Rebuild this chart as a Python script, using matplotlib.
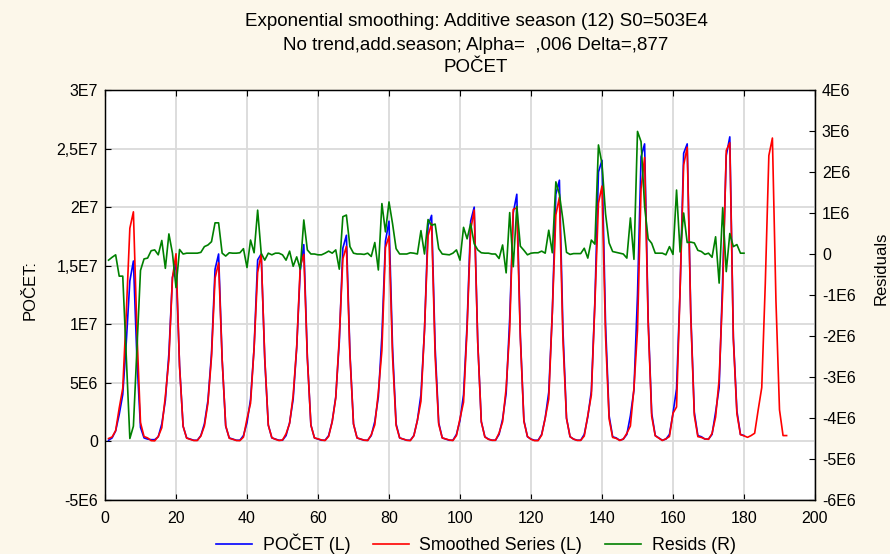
import numpy as np
import matplotlib
matplotlib.use("Agg")
import matplotlib.pyplot as plt
from matplotlib.lines import Line2D

plt.rcParams['font.family'] = ['Liberation Sans', 'DejaVu Sans']

# POCET, observed series (in millions), months 1..180
pocet = [
    0.10, 0.30, 0.90, 2.30, 4.00, 8.50, 13.7, 15.4, 7.00, 1.20, 0.30, 0.20,
    0.15, 0.15, 0.40, 1.50, 3.50, 7.50, 14.0, 15.2, 6.50, 1.30, 0.30, 0.20,
    0.10, 0.10, 0.50, 1.50, 3.50, 7.50, 14.7, 16.0, 7.00, 1.30, 0.30, 0.20,
    0.10, 0.10, 0.50, 1.60, 3.60, 8.00, 15.5, 16.0, 7.00, 1.40, 0.30, 0.20,
    0.10, 0.10, 0.50, 1.60, 3.60, 8.00, 14.6, 16.8, 7.20, 1.40, 0.30, 0.20,
    0.10, 0.10, 0.50, 1.70, 3.80, 8.50, 16.5, 17.6, 7.50, 1.50, 0.30, 0.20,
    0.10, 0.10, 0.50, 1.70, 3.80, 9.00, 17.1, 18.8, 8.00, 1.50, 0.30, 0.20,
    0.10, 0.10, 0.50, 1.80, 4.00, 9.50, 18.4, 19.3, 8.00, 1.60, 0.30, 0.20,
    0.10, 0.10, 0.60, 1.80, 4.00, 10.0, 18.8, 20.0, 8.50, 1.70, 0.40, 0.20,
    0.10, 0.10, 0.60, 1.90, 4.10, 10.5, 19.5, 21.1, 9.00, 1.80, 0.40, 0.20,
    0.10, 0.10, 0.60, 2.00, 4.20, 11.0, 21.1, 22.3, 9.50, 2.00, 0.40, 0.20,
    0.10, 0.10, 0.60, 2.10, 4.30, 12.0, 23.0, 24.0, 10.0, 2.20, 0.40, 0.30,
    0.10, 0.20, 0.60, 2.20, 4.40, 12.5, 24.3, 25.4, 10.5, 2.40, 0.50, 0.30,
    0.10, 0.20, 0.60, 2.40, 4.50, 13.0, 24.6, 25.4, 11.0, 2.50, 0.50, 0.40,
    0.20, 0.20, 0.60, 2.50, 4.60, 14.0, 24.4, 26.0, 8.90, 2.60, 0.60, 0.50,
]

# smoothed series incl. 12 month forecast (millions), months 1..192
smoothed = [
    0.25, 0.38, 0.92, 2.84, 4.54, 11.0, 18.2, 19.6, 9.30, 1.60, 0.42, 0.30,
    0.07, 0.05, 0.42, 1.17, 3.85, 7.01, 13.98, 16.02, 6.39, 1.30, 0.28, 0.18,
    0.08, 0.08, 0.46, 1.32, 3.28, 7.20, 13.94, 15.24, 6.98, 1.35, 0.27, 0.18,
    0.08, 0.07, 0.37, 1.93, 3.26, 7.97, 14.43, 15.98, 7.15, 1.38, 0.32, 0.18,
    0.08, 0.12, 0.65, 1.53, 3.90, 8.07, 14.97, 15.97, 7.10, 1.40, 0.30, 0.22,
    0.12, 0.08, 0.43, 1.68, 3.70, 8.87, 15.59, 16.65, 7.32, 1.48, 0.30, 0.20,
    0.11, 0.08, 0.56, 1.42, 4.19, 7.77, 16.56, 17.53, 7.26, 1.37, 0.30, 0.20,
    0.10, 0.07, 0.48, 1.80, 3.43, 9.50, 17.56, 18.60, 7.27, 1.47, 0.30, 0.21,
    0.12, 0.08, 0.50, 1.95, 3.35, 9.63, 18.06, 19.75, 8.40, 1.67, 0.38, 0.18,
    0.10, 0.10, 0.71, 1.68, 4.56, 9.49, 19.81, 19.94, 8.81, 1.71, 0.42, 0.18,
    0.07, 0.07, 0.53, 1.98, 3.62, 10.97, 19.34, 20.84, 8.67, 1.96, 0.41, 0.19,
    0.09, 0.09, 0.46, 2.20, 3.96, 11.76, 20.34, 21.80, 9.02, 1.93, 0.34, 0.26,
    0.08, 0.20, 0.70, 1.32, 4.53, 9.51, 21.56, 24.24, 10.13, 2.14, 0.48, 0.28,
    0.08, 0.22, 0.42, 2.41, 2.94, 12.95, 23.60, 25.12, 10.71, 2.23, 0.41, 0.34,
    0.21, 0.18, 0.68, 2.08, 5.31, 12.87, 24.83, 25.50, 8.72, 2.37, 0.58, 0.48,
    0.35, 0.50, 0.70, 2.70, 4.60, 13.5, 24.4, 25.9, 12.0, 2.70, 0.50, 0.50,
]

# residuals (millions), months 1..180
resids = [
    -0.15, -0.08, -0.02, -0.54, -0.54, -2.50, -4.50, -4.20, -2.30, -0.40, -0.12, -0.10,
    0.08, 0.10, -0.02, 0.33, -0.35, 0.49, 0.02, -0.82, 0.11, 0.00, 0.02, 0.02,
    0.02, 0.02, 0.04, 0.18, 0.22, 0.30, 0.76, 0.76, 0.02, -0.05, 0.03, 0.02,
    0.02, 0.03, 0.13, -0.33, 0.34, 0.03, 1.07, 0.02, -0.15, 0.02, -0.02, 0.02,
    0.02, -0.02, -0.15, 0.07, -0.30, -0.07, -0.37, 0.83, 0.10, 0.00, 0.00, -0.02,
    -0.02, 0.02, 0.07, 0.02, 0.10, -0.37, 0.91, 0.95, 0.18, 0.02, 0.00, 0.00,
    -0.01, 0.02, -0.06, 0.28, -0.39, 1.23, 0.54, 1.27, 0.74, 0.13, 0.00, 0.00,
    0.00, 0.03, 0.02, 0.00, 0.57, 0.00, 0.84, 0.70, 0.73, 0.13, 0.00, -0.01,
    -0.02, 0.02, 0.10, -0.15, 0.65, 0.37, 0.74, 0.25, 0.10, 0.03, 0.02, 0.02,
    0.00, 0.00, -0.11, 0.22, -0.46, 1.01, -0.31, 1.16, 0.19, 0.09, -0.02, 0.02,
    0.03, 0.03, 0.07, 0.02, 0.58, 0.03, 1.76, 1.46, 0.83, 0.04, -0.01, 0.01,
    0.01, 0.01, 0.14, -0.10, 0.34, 0.24, 2.66, 2.20, 0.98, 0.27, 0.06, 0.04,
    0.02, 0.00, -0.10, 0.88, -0.13, 2.99, 2.74, 1.16, 0.37, 0.26, 0.02, 0.02,
    0.02, -0.02, 0.18, -0.01, 1.56, 0.05, 1.00, 0.28, 0.29, 0.27, 0.09, 0.06,
    -0.01, 0.02, -0.08, 0.42, -0.71, 1.13, -0.43, 0.50, 0.18, 0.23, 0.02, 0.02,
]

left_ticks = [-5e6, 0, 5e6, 1e7, 1.5e7, 2e7, 2.5e7, 3e7]
left_labels = ['-5E6', '0', '5E6', '1E7', '1,5E7', '2E7', '2,5E7', '3E7']
right_ticks = [-6e6, -5e6, -4e6, -3e6, -2e6, -1e6, 0, 1e6, 2e6, 3e6, 4e6]
right_labels = ['-6E6', '-5E6', '-4E6', '-3E6', '-2E6', '-1E6', '0', '1E6', '2E6', '3E6', '4E6']
x_ticks = [0, 20, 40, 60, 80, 100, 120, 140, 160, 180, 200]

x_obs = np.arange(1, len(pocet) + 1)
x_smo = np.arange(1, len(smoothed) + 1)
x_res = np.arange(1, len(resids) + 1)

W, H = 890, 554
bg = '#fcf7ea'
fig = plt.figure(figsize=(W / 100, H / 100), dpi=100, facecolor=bg)
ax = fig.add_axes([105 / W, 1 - 500 / H, 710 / W, 410 / H])
ax.set_facecolor('white')

ax.plot(x_obs, np.array(pocet) * 1e6, color='#0000ff', lw=1.2, zorder=3)
ax.plot(x_smo, np.array(smoothed) * 1e6, color='#ff0000', lw=1.2, zorder=4)
ax.set_xlim(0, 200)
ax.set_ylim(-5e6, 3e7)
ax.set_xticks(x_ticks)
ax.set_xticklabels([str(t) for t in x_ticks])
ax.set_yticks(left_ticks)
ax.set_yticklabels(left_labels)
ax.grid(True, color='#dadada', lw=1.3, zorder=0)
ax.set_axisbelow(True)
ax.tick_params(direction='in', length=4, width=0.8, labelsize=11.5, top=True, pad=5)
ax.tick_params(axis='x', pad=8)

ax2 = ax.twinx()
ax2.plot(x_res, np.array(resids) * 1e6, color='#008000', lw=1.2)
ax2.set_ylim(-6e6, 4e6)
ax2.set_yticks(right_ticks)
ax2.set_yticklabels(right_labels)
ax2.tick_params(direction='in', length=4, width=0.8, labelsize=11.5, pad=5)

for a in (ax, ax2):
    for s in a.spines.values():
        s.set_color('black')
        s.set_linewidth(0.9)

fig.text(30 / W, 1 - 290 / H, 'POČET:', rotation=90, ha='center', va='center', fontsize=12)
fig.text(881 / W, 1 - 268 / H, 'Residuals', rotation=90, ha='center', va='center', fontsize=12)

cx = 476 / W
fig.text(cx, 1 - 22 / H, 'Exponential smoothing: Additive season (12) S0=503E4',
         ha='center', va='center', fontsize=13.5)
fig.text(cx, 1 - 46 / H, 'No trend,add.season; Alpha=  ,006 Delta=,877',
         ha='center', va='center', fontsize=13.5)
fig.text(cx, 1 - 68 / H, 'POČET', ha='center', va='center', fontsize=13.5)

handles = [Line2D([], [], color='#0000ff', lw=1.2),
           Line2D([], [], color='#ff0000', lw=1.2),
           Line2D([], [], color='#008000', lw=1.2)]
fig.legend(handles, ['POČET (L)', 'Smoothed Series (L)', 'Resids (R)'],
           loc='center', bbox_to_anchor=(cx, 1 - 544 / H), ncol=3, frameon=False,
           fontsize=12.8, handlelength=2.0, handletextpad=0.6, columnspacing=1.3)

fig.savefig('out.png', dpi=100, facecolor=bg)
